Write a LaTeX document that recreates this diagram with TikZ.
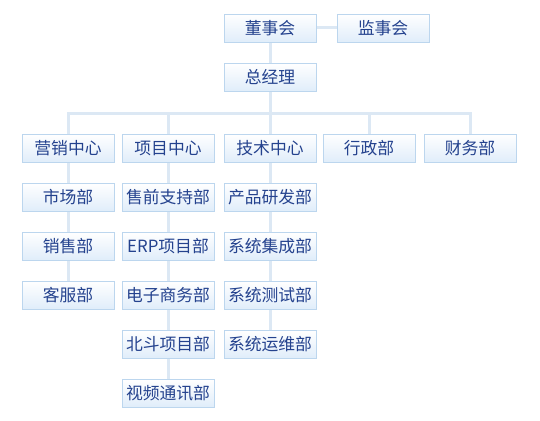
\documentclass[tikz,border=0pt]{standalone}
\usepackage{fontspec}
\setmainfont{Noto Sans CJK SC}
\usetikzlibrary{backgrounds}
\definecolor{boxborder}{HTML}{BCD6EE}
\definecolor{boxtop}{HTML}{FFFFFF}
\definecolor{boxbot}{HTML}{E0EDFA}
\definecolor{linec}{HTML}{DCE8F4}
\definecolor{txt}{HTML}{24428E}
\tikzset{
  orgbox/.style={draw=boxborder, line width=0.8pt, top color=boxtop, bottom color=boxbot,
    minimum width=92pt, minimum height=28pt, inner sep=0pt, text=txt,
    font=\fontsize{16.8pt}{18pt}\selectfont},
  conn/.style={draw=linec, line width=3pt}
}
\begin{document}
\begin{tikzpicture}[x=1pt,y=-1pt]
\useasboundingbox (0,0) rectangle (540,420);
\node[orgbox] (dsh) at (270,28) {董事会};
\node[orgbox] (jsh) at (383,28) {监事会};
\node[orgbox] (zjl) at (270,77) {总经理};
\node[orgbox] (yx) at (68,148) {营销中心};
\node[orgbox] (xm) at (168,148) {项目中心};
\node[orgbox] (js) at (270,148) {技术中心};
\node[orgbox] (xz) at (369,148) {行政部};
\node[orgbox] (cw) at (470,148) {财务部};
\node[orgbox] (sc) at (68,197) {市场部};
\node[orgbox] (xs) at (68,246) {销售部};
\node[orgbox] (kf) at (68,295) {客服部};
\node[orgbox] (sq) at (168,197) {售前支持部};
\node[orgbox] (erp) at (168,246) {ERP项目部};
\node[orgbox] (dz) at (168,295) {电子商务部};
\node[orgbox] (bd) at (168,344) {北斗项目部};
\node[orgbox] (sp) at (168,393) {视频通讯部};
\node[orgbox] (cp) at (270,197) {产品研发部};
\node[orgbox] (jc) at (270,246) {系统集成部};
\node[orgbox] (cs) at (270,295) {系统测试部};
\node[orgbox] (yw) at (270,344) {系统运维部};
\coordinate (bus) at (270,113);
\begin{scope}[on background layer]
\draw[conn] (dsh.east) -- (jsh.west);
\draw[conn] (dsh.south) -- (zjl.north);
\draw[conn] (zjl.south) -- (bus);
\draw[conn] (yx.north) |- (cw.north |- bus) -- (cw.north);
\draw[conn] (xm.north) -- (xm.north |- bus);
\draw[conn] (js.north) -- (js.north |- bus);
\draw[conn] (xz.north) -- (xz.north |- bus);
\draw[conn] (yx.south) -- (sc.north);
\draw[conn] (sc.south) -- (xs.north);
\draw[conn] (xs.south) -- (kf.north);
\draw[conn] (xm.south) -- (sq.north);
\draw[conn] (sq.south) -- (erp.north);
\draw[conn] (erp.south) -- (dz.north);
\draw[conn] (dz.south) -- (bd.north);
\draw[conn] (bd.south) -- (sp.north);
\draw[conn] (js.south) -- (cp.north);
\draw[conn] (cp.south) -- (jc.north);
\draw[conn] (jc.south) -- (cs.north);
\draw[conn] (cs.south) -- (yw.north);
\end{scope}
\end{tikzpicture}
\end{document}
